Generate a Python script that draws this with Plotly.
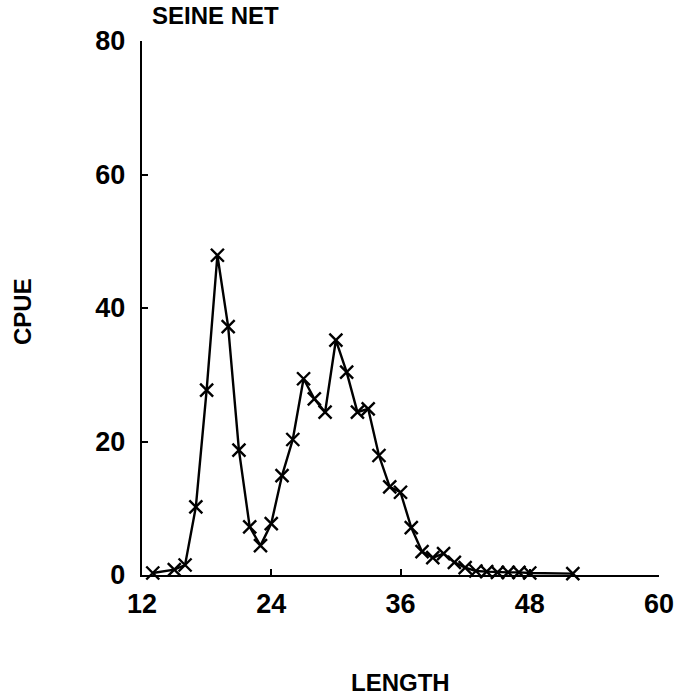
import plotly.graph_objects as go

# Seine net catch per unit effort by fish length
length = [13, 15, 16, 17, 18, 19, 20, 21, 22, 23, 24, 25, 26, 27, 28, 29, 30,
          31, 32, 33, 34, 35, 36, 37, 38, 39, 40, 41, 42, 43, 44, 45, 46, 47,
          48, 52]
cpue = [0.3, 0.8, 1.5, 10.2, 27.7, 47.9, 37.2, 18.7, 7.2, 4.4, 7.7, 14.9,
        20.3, 29.4, 26.4, 24.4, 35.2, 30.4, 24.4, 24.9, 17.9, 13.2, 12.4, 7.1,
        3.5, 2.6, 3.2, 1.9, 1.1, 0.6, 0.5, 0.4, 0.4, 0.4, 0.3, 0.2]

x_ticks = [12, 24, 36, 48, 60]
y_ticks = [0, 20, 40, 60, 80]

font_family = "Liberation Sans, Arial, sans-serif"

fig = go.Figure()
fig.add_trace(go.Scatter(
    x=length, y=cpue, mode="lines+markers",
    line=dict(color="black", width=2.4),
    marker=dict(symbol="x-thin", size=13,
                line=dict(color="black", width=2.4)),
    cliponaxis=False, showlegend=False,
))

axis_common = dict(
    showline=True, linecolor="black", linewidth=2.4,
    showgrid=False, zeroline=False, mirror=False,
    ticks="inside", tickcolor="black", tickwidth=1.5, ticklen=6,
    tickfont=dict(family=font_family, size=27, color="black", weight="bold"),
)

fig.update_xaxes(range=[12, 60], tickvals=x_ticks,
                 ticktext=[str(v) for v in x_ticks],
                 ticklabelstandoff=3, **axis_common)
fig.update_yaxes(range=[0, 80], tickvals=y_ticks,
                 ticktext=[str(v) for v in y_ticks],
                 ticklabelstandoff=9, **axis_common)

label_font = dict(family=font_family, size=24, color="black", weight="bold")
fig.add_annotation(text="SEINE NET", xref="paper", yref="paper",
                   x=0.015, y=1.0, xanchor="left", yanchor="middle",
                   yshift=26, showarrow=False, font=label_font)
fig.add_annotation(text="CPUE", xref="paper", yref="paper",
                   x=0, y=0.5, xanchor="center", yanchor="middle",
                   xshift=-120, yshift=-4, textangle=-90, showarrow=False,
                   font=label_font)
fig.add_annotation(text="LENGTH", xref="paper", yref="paper",
                   x=0.5, y=0, xanchor="center", yanchor="middle",
                   yshift=-107, showarrow=False, font=label_font)

fig.update_layout(
    width=686, height=700,
    margin=dict(l=142, r=22, t=41, b=125),
    paper_bgcolor="white", plot_bgcolor="white",
)

fig.write_html("out.html")
